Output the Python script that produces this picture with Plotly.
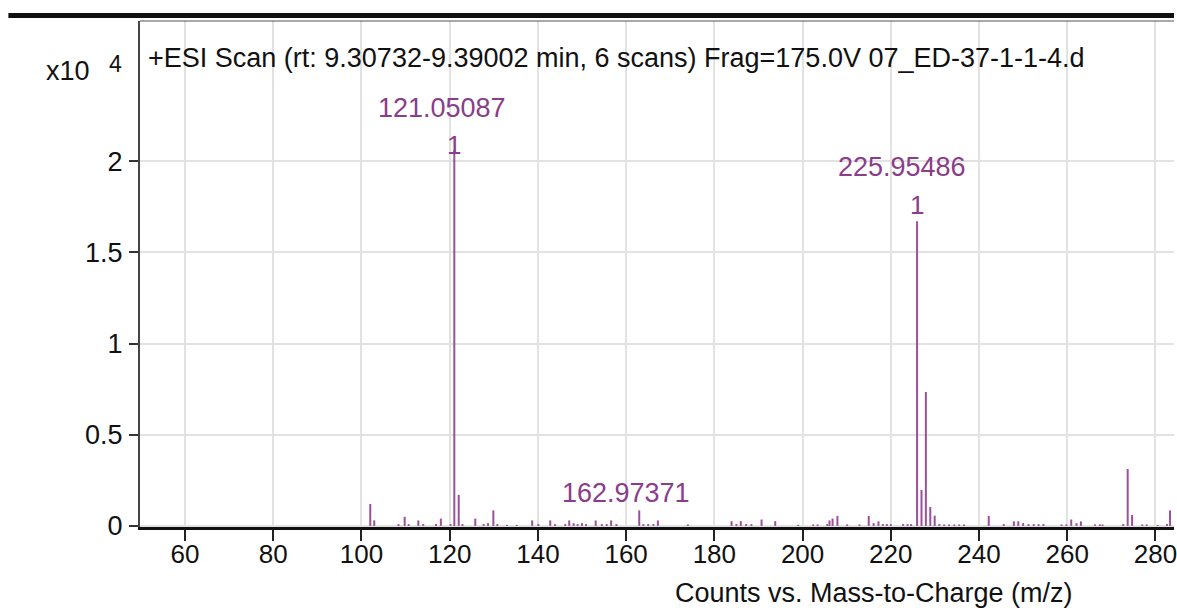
import plotly.graph_objects as go

# ---- data ----
mz = [102.0, 102.9, 108.4, 109.8, 110.7, 112.9, 114.0, 116.9, 118.0, 120.2,
      121.05087, 122.05, 122.9, 125.8, 127.7, 128.7, 129.9, 130.8, 133.0, 135.2,
      138.7, 140.1, 142.8, 143.9, 146.2, 147.1, 148.1, 149.0, 150.0, 150.9,
      153.1, 154.5, 155.6, 156.6, 157.8, 162.97371, 163.9, 165.0, 166.2, 167.2,
      174.0, 183.9, 185.0, 186.0, 187.2, 188.4, 190.7, 193.8, 199.0, 202.4,
      203.4, 205.6, 206.1, 206.8, 207.9, 210.1, 212.9, 215.0, 216.1, 217.2,
      218.2, 219.1, 220.0, 222.8, 223.8, 224.6, 225.95486, 226.96, 227.95, 228.95,
      229.95, 231.0, 232.1, 233.2, 234.4, 235.5, 236.6, 242.2, 245.6, 247.9,
      248.9, 250.0, 251.2, 252.4, 253.5, 254.6, 258.7, 259.8, 260.9, 262.1,
      263.1, 266.3, 267.4, 268.0, 272.7, 273.7, 274.7, 277.0, 278.0, 280.5,
      282.6, 283.3]
counts = [0.12, 0.03, 0.01, 0.05, 0.01, 0.03, 0.01, 0.01, 0.04, 0.01,
          2.06, 0.17, 0.01, 0.04, 0.01, 0.015, 0.085, 0.01, 0.006, 0.006,
          0.03, 0.01, 0.03, 0.01, 0.01, 0.03, 0.015, 0.01, 0.015, 0.01,
          0.03, 0.01, 0.01, 0.03, 0.01, 0.085, 0.01, 0.01, 0.01, 0.03,
          0.008, 0.026, 0.01, 0.026, 0.01, 0.01, 0.035, 0.026, 0.006, 0.008,
          0.008, 0.01, 0.03, 0.04, 0.055, 0.008, 0.008, 0.055, 0.015, 0.025,
          0.01, 0.01, 0.01, 0.01, 0.01, 0.01, 1.67, 0.197, 0.734, 0.104,
          0.056, 0.01, 0.008, 0.008, 0.008, 0.008, 0.008, 0.055, 0.01, 0.025,
          0.025, 0.015, 0.01, 0.01, 0.01, 0.01, 0.008, 0.008, 0.035, 0.015,
          0.025, 0.008, 0.008, 0.008, 0.01, 0.312, 0.06, 0.008, 0.008, 0.005,
          0.01, 0.085]

label_mz = [121.05087, 225.95486, 162.97371]
label_counts = [2.06, 1.67, 0.085]
label_text = ["121.05087", "225.95486", "162.97371"]
label_charge = ["1", "1", ""]

x_ticks = [60, 80, 100, 120, 140, 160, 180, 200, 220, 240, 260, 280]
y_ticks = [0, 0.5, 1, 1.5, 2]
y_ticktext = ["0", "0.5", "1", "1.5", "2"]

title_text = "+ESI Scan (rt: 9.30732-9.39002 min, 6 scans) Frag=175.0V 07_ED-37-1-1-4.d"
x_title = "Counts vs. Mass-to-Charge (m/z)"

# ---- style ----
FONT = "Liberation Sans"
PEAK = "#9c4f9c"
LABEL = "#8a3d8a"
mass_dy = [42, 54, 17]      # pixel offsets of the m/z labels above peak tops
charge_dy = [-12, -1, 0]    # pixel offsets of the charge labels
label_dx = [-12, -15, -13]

# stick spectrum
xs, ys = [], []
for m, c in zip(mz, counts):
    xs += [m, m, None]
    ys += [0, c, None]

fig = go.Figure()
fig.add_trace(go.Scatter(x=xs, y=ys, mode="lines",
                         line=dict(color=PEAK, width=2), hoverinfo="skip",
                         showlegend=False))

annotations = []
for m, c, t, z, dy, cdy, dx in zip(label_mz, label_counts, label_text,
                                    label_charge, mass_dy, charge_dy, label_dx):
    if z:
        annotations.append(dict(x=m, y=c, xref="x", yref="y", text=z,
                                showarrow=False, yanchor="bottom", yshift=cdy,
                                font=dict(family=FONT, size=26, color=LABEL)))
    annotations.append(dict(x=m, y=c, xref="x", yref="y", text=t,
                            showarrow=False, yanchor="middle", yshift=dy,
                            xshift=dx,
                            font=dict(family=FONT, size=27, color=LABEL)))

annotations.append(dict(x=0, y=(527 - 58) / 506, xref="paper", yref="paper",
                        text=title_text, showarrow=False, xanchor="left",
                        yanchor="middle", xshift=6,
                        font=dict(family=FONT, size=27, color="#111")))
annotations.append(dict(x=0, y=(527 - 71) / 506, xref="paper", yref="paper",
                        text="x10", showarrow=False, xanchor="right",
                        yanchor="middle", xshift=-48,
                        font=dict(family=FONT, size=27, color="#111")))
annotations.append(dict(x=0, y=(527 - 64) / 506, xref="paper", yref="paper",
                        text="4", showarrow=False, xanchor="right",
                        yanchor="middle", xshift=-16,
                        font=dict(family=FONT, size=23, color="#111")))
annotations.append(dict(x=(1078 - 140) / 1037, y=(527 - 593) / 506,
                        xref="paper", yref="paper", text=x_title,
                        showarrow=False, xanchor="right", yanchor="middle",
                        font=dict(family=FONT, size=27, color="#111")))

shapes = [
    dict(type="rect", xref="paper", yref="paper", x0=0.002, x1=1.0,
         y0=(527 - 85) / 506, y1=1.0, fillcolor="white",
         line=dict(width=0), layer="between"),
    dict(type="line", xref="paper", yref="paper", x0=0, x1=1.0,
         y0=1.0, y1=1.0, line=dict(color="#555", width=1.2)),
    dict(type="line", xref="paper", yref="paper", x0=(8 - 140) / 1037, x1=1.0,
         y0=(527 - 15.5) / 506, y1=(527 - 15.5) / 506,
         line=dict(color="#111", width=5)),
]

fig.update_layout(
    width=1177, height=608,
    margin=dict(l=140, r=0, t=21, b=81),
    paper_bgcolor="white", plot_bgcolor="white",
    font=dict(family=FONT, color="#111"),
    annotations=annotations, shapes=shapes,
    showlegend=False,
)
fig.update_xaxes(range=[49.8, 284.2], tickvals=x_ticks,
                 showgrid=True, gridcolor="#e2e2e2", gridwidth=1.5,
                 showline=True, linecolor="#111", linewidth=3,
                 ticks="outside", ticklen=11, tickwidth=2, tickcolor="#222",
                 ticklabelstandoff=-9, ticklabeloverflow="allow",
                 tickfont=dict(family=FONT, size=26, color="#111"),
                 zeroline=False)
fig.update_yaxes(range=[-0.006, 2.768], tickvals=y_ticks, ticktext=y_ticktext,
                 showgrid=True, gridcolor="#e2e2e2", gridwidth=1.5,
                 showline=True, linecolor="#444", linewidth=2,
                 ticks="outside", ticklen=9, tickwidth=2, tickcolor="#333",
                 ticklabelstandoff=1,
                 tickfont=dict(family=FONT, size=27, color="#111"),
                 zeroline=False)

fig.write_html("out.html", config={"displayModeBar": False},
               post_script="document.body.style.margin='0';document.body.style.overflow='hidden';")
